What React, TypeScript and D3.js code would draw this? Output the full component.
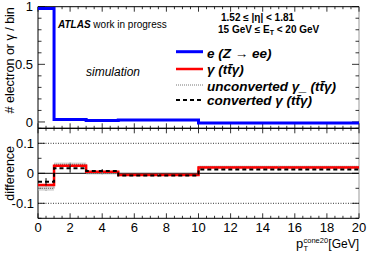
import React from 'react';
import * as d3 from 'd3';

// bin edges in pT cone20 [GeV]
const binEdges = [0, 1, 3, 5, 10, 20];
// top panel: fraction per bin for electrons
const electronFrac = [0.985, 0.022, 0.012, 0.016, -0.008];
// bottom panel: differences to electrons
const diffPhoton = [-0.039, 0.025, 0.005, -0.006, 0.019];
const diffUnconv = [-0.05, 0.03, 0.0, -0.004, 0.023];
const diffConv = [-0.028, 0.017, 0.008, -0.007, 0.013];
const errUnconv = [0.008, 0.006, 0.004, 0.002, 0.002];
const errConv = [0.012, 0.015, 0.006, 0.003, 0.003];

const xTicks = [0, 2, 4, 6, 8, 10, 12, 14, 16, 18, 20];
const topYTicks = [0, 0.5, 1];
const botYTicks = [-0.1, 0, 0.1];
const legendLabels = ['e (Z → ee)', 'γ (tt̄γ)', 'unconverted γ_ (tt̄γ)', 'converted γ (tt̄γ)'];

const W = 379;
const H = 257;
const font = 'Liberation Sans, Arial, Helvetica, sans-serif';

const x = d3.scaleLinear().domain([0, 20]).range([38, 359]);
const yTop = d3.scaleLinear().domain([-0.055, 1.0]).range([128.3, 6.7]);
const yBot = d3.scaleLinear().domain([-0.15, 0.15]).range([218.3, 128.3]);

function stepPath(values: number[], y: d3.ScaleLinear<number, number>) {
    const pts: [number, number][] = [];
    values.forEach((v, i) => {
        pts.push([x(binEdges[i]), y(v)]);
        pts.push([x(binEdges[i + 1]), y(v)]);
    });
    return d3.line()(pts) || '';
}

function Frame({ y, top, bottom, yMajor, yMinorStep, yDomain }: any) {
    const minorX = d3.range(0, 20.01, 0.5);
    const minorY = d3.range(yDomain[0], yDomain[1] + 1e-6, yMinorStep);
    const x0 = x.range()[0];
    const x1 = x.range()[1];
    return (
        <g>
            <line x1={x0} x2={x1} y1={top} y2={top} stroke="#000" strokeWidth={1} />
            <line x1={x0} x2={x1} y1={bottom} y2={bottom} stroke="#000" strokeWidth={1} />
            <line x1={x0} x2={x0} y1={top} y2={bottom} stroke="#000" strokeWidth={1} />
            <line x1={x1} x2={x1} y1={top} y2={bottom} stroke="#999" strokeWidth={1} />
            {minorX.map(v => {
                const major = Math.abs(v % 2) < 1e-6;
                const len = major ? 5 : 2.5;
                return (
                    <g key={'xt' + v}>
                        <line x1={x(v)} x2={x(v)} y1={bottom} y2={bottom - len} stroke="#000" strokeWidth={0.8} />
                        <line x1={x(v)} x2={x(v)} y1={top} y2={top + len} stroke="#000" strokeWidth={0.8} />
                    </g>
                );
            })}
            {minorY.map(v => {
                const major = yMajor.some((m: number) => Math.abs(m - v) < 1e-6);
                const len = major ? 7 : 3.5;
                return (
                    <g key={'yt' + v}>
                        <line x1={x0} x2={x0 + len} y1={y(v)} y2={y(v)} stroke="#000" strokeWidth={0.8} />
                        <line x1={x1} x2={x1 - len} y1={y(v)} y2={y(v)} stroke="#000" strokeWidth={0.8} />
                    </g>
                );
            })}
        </g>
    );
}

const App: React.FC = () => {
    const centers = binEdges.slice(0, -1).map((e, i) => (e + binEdges[i + 1]) / 2);
    const legendStyles = [
        { stroke: '#0000ff', width: 3, dash: undefined, ly: 51.7, ty: 57.5 },
        { stroke: '#ff0000', width: 2.5, dash: undefined, ly: 69, ty: 74 },
        { stroke: '#777', width: 1, dash: '1,1', ly: 85, ty: 91 },
        { stroke: '#000', width: 2, dash: '4,3', ly: 100, ty: 105 },
    ];

    return (
        <svg width={W} height={H} style={{ position: 'absolute', left: 0, top: 0, background: '#fff' }} fontFamily={font}>
            <rect width={W} height={H} fill="#fff" />

            {/* top panel */}
            <Frame y={yTop} top={6.7} bottom={128.3} yMajor={topYTicks} yMinorStep={0.1} yDomain={[0, 1]} />
            <path d={stepPath(electronFrac, yTop)} fill="none" stroke="#0000ff" strokeWidth={3} />
            {topYTicks.map(t => (
                <text key={t} x={33} y={yTop(t)} dy="0.35em" textAnchor="end" fontSize={13}>{t}</text>
            ))}
            <text transform={`translate(14,${yTop(0.5) - 4}) rotate(-90)`} textAnchor="middle" fontSize={12.5}>
                # electron or γ / bin
            </text>

            <text x={58} y={28} fontSize={10}>
                <tspan fontWeight="bold" fontStyle="italic">ATLAS</tspan>
                <tspan> work in progress</tspan>
            </text>
            <text x={221} y={20.5} fontSize={10} fontWeight="bold">1.52 ≤ |η| &lt; 1.81</text>
            <text x={218} y={33} fontSize={10} fontWeight="bold">
                15 GeV ≤ E<tspan dy={2} fontSize={7}>T</tspan><tspan dy={-2}> &lt; 20 GeV</tspan>
            </text>
            <text x={86} y={76} fontSize={12} fontStyle="italic">simulation</text>

            {/* legend */}
            {legendLabels.map((lab, i) => {
                const s = legendStyles[i];
                return (
                    <g key={lab}>
                        <line x1={176} x2={203} y1={s.ly} y2={s.ly} stroke={s.stroke} strokeWidth={s.width} strokeDasharray={s.dash} />
                        <text x={207} y={s.ty} fontSize={13.5} fontWeight="bold" fontStyle="italic">{lab}</text>
                    </g>
                );
            })}

            {/* bottom panel */}
            <line x1={x(0)} x2={x(20)} y1={yBot(0.1)} y2={yBot(0.1)} stroke="#000" strokeWidth={0.8} strokeDasharray="1,1.5" />
            <line x1={x(0)} x2={x(20)} y1={yBot(-0.1)} y2={yBot(-0.1)} stroke="#000" strokeWidth={0.8} strokeDasharray="1,1.5" />
            <line x1={x(0)} x2={x(20)} y1={yBot(0)} y2={yBot(0)} stroke="#000" strokeWidth={1} />
            <Frame y={yBot} top={128.3} bottom={218.3} yMajor={botYTicks} yMinorStep={0.05} yDomain={[-0.15, 0.15]} />

            {/* unconverted band */}
            {diffUnconv.map((v, i) => (
                <rect key={'ub' + i} x={x(binEdges[i])} width={x(binEdges[i + 1]) - x(binEdges[i])}
                    y={yBot(v + errUnconv[i])} height={yBot(v - errUnconv[i]) - yBot(v + errUnconv[i])}
                    fill="#bbb" opacity={0.6} />
            ))}
            <path d={stepPath(diffUnconv, yBot)} fill="none" stroke="#666" strokeWidth={1} strokeDasharray="1,1" />
            <path d={stepPath(diffPhoton, yBot)} fill="none" stroke="#ff0000" strokeWidth={2.5} />
            <path d={stepPath(diffConv, yBot)} fill="none" stroke="#000" strokeWidth={2} strokeDasharray="4,3" />
            {centers.map((c, i) => (
                <line key={'ec' + i} x1={x(c)} x2={x(c)} y1={yBot(diffConv[i] + errConv[i])} y2={yBot(diffConv[i] - errConv[i])}
                    stroke="#000" strokeWidth={1} />
            ))}
            {centers.map((c, i) => (
                <line key={'eu' + i} x1={x(c)} x2={x(c)} y1={yBot(diffUnconv[i] + errUnconv[i])} y2={yBot(diffUnconv[i] - errUnconv[i])}
                    stroke="#888" strokeWidth={1} strokeDasharray="1,1" />
            ))}

            {botYTicks.map(t => (
                <text key={t} x={34} y={yBot(t)} dy="0.35em" textAnchor="end" fontSize={13}>{t}</text>
            ))}
            <text transform={`translate(14,${yBot(0)}) rotate(-90)`} textAnchor="middle" fontSize={12.5}>difference</text>

            {xTicks.map(t => (
                <text key={t} x={x(t)} y={232} textAnchor="middle" fontSize={13}>{t}</text>
            ))}
            <text x={296} y={248} fontSize={13}>p</text>
            <text x={303.5} y={251} fontSize={7.5}>T</text>
            <text x={303.5} y={243} fontSize={7.5}>cone20</text>
            <text x={359} y={248} textAnchor="end" fontSize={12}>[GeV]</text>
        </svg>
    );
};

export default App;
